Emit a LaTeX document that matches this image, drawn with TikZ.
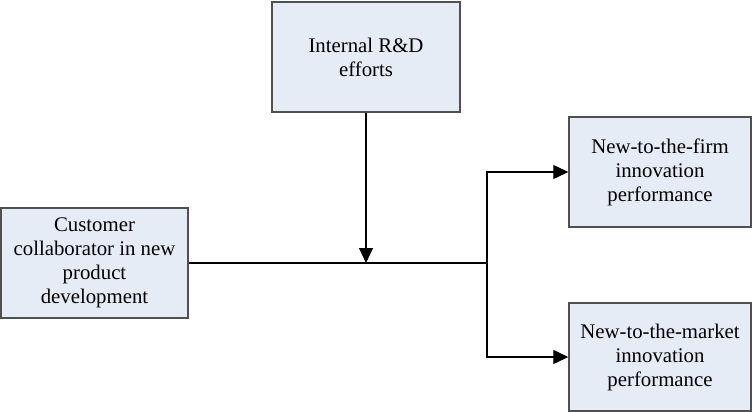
\documentclass[tikz,border=0pt]{standalone}
\usepackage{fontspec}
\setmainfont{Liberation Serif}
\usetikzlibrary{arrows.meta}
\definecolor{boxfill}{RGB}{230,236,246}
\definecolor{boxline}{RGB}{80,80,80}
\tikzset{
  varbox/.style={draw=boxline, line width=1.4pt, fill=boxfill, align=center,
    inner sep=0pt, font=\fontsize{20.8}{24}\selectfont},
  conn/.style={line width=1.2pt, black},
  arr/.style={conn, -{Triangle[length=15pt,width=14pt]}}
}
\begin{document}
\begin{tikzpicture}[x=1pt,y=-1pt]
\useasboundingbox (0,0) rectangle (755,412);
\node[varbox, minimum width=188pt, minimum height=110pt] (rd) at (366,57) {Internal R\&D\\efforts};
\node[varbox, minimum width=187pt, minimum height=110pt] (cust) at (94.5,263) {Customer\\collaborator in new\\product\\development};
\node[varbox, minimum width=182pt, minimum height=110pt] (firm) at (660,172) {New-to-the-firm\\innovation\\performance};
\node[varbox, minimum width=182pt, minimum height=108pt] (market) at (660,357) {New-to-the-market\\innovation\\performance};
\coordinate (j) at (487,263);
\coordinate (m) at (366,263);
\draw[conn] (cust.east) -- (j);
\draw[arr] (rd.south) -- (m);
\draw[arr] (j) |- (firm.west);
\draw[arr] (j) |- (market.west);
\end{tikzpicture}
\end{document}
